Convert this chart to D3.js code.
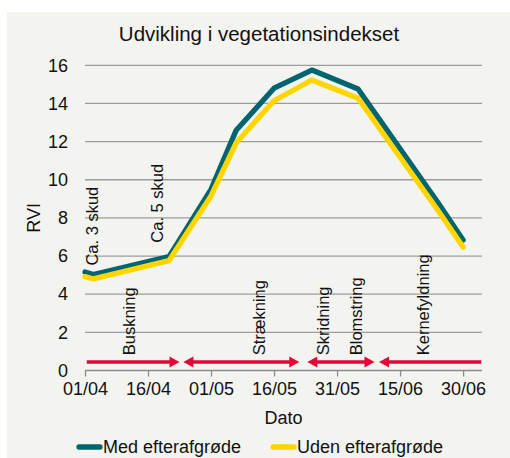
<!DOCTYPE html>
<html>
<head>
<meta charset="utf-8">
<script src="https://cdn.jsdelivr.net/npm/d3@7"></script>
<style>
  html, body { margin: 0; padding: 0; background: #fff; }
  svg { display: block; }
  text { font-family: "Liberation Sans", Arial, sans-serif; fill: #111; }
</style>
</head>
<body>
<svg id="chart" width="510" height="458"></svg>
<script>
// measurement dates
const dates = ["2023-04-01", "2023-04-03", "2023-04-21", "2023-05-01", "2023-05-07",
  "2023-05-16", "2023-05-25", "2023-06-05", "2023-06-24", "2023-06-30"];
const medValues = [5.16, 5.03, 5.97, 9.5, 12.6, 14.8, 15.75, 14.76, 8.8, 6.84];
const udenValues = [4.92, 4.8, 5.76, 9.15, 11.94, 14.14, 15.23, 14.27, 8.4, 6.47];

const tickDates = ["2023-04-01", "2023-04-16", "2023-05-01", "2023-05-16",
  "2023-05-31", "2023-06-15", "2023-06-30"];
const yTicks = [0, 2, 4, 6, 8, 10, 12, 14, 16];

// growth stage arrows: from, to, heads
const stageFrom = ["2023-04-01T10:00", "2023-04-24T10:00", "2023-05-23T22:00", "2023-06-10"];
const stageTo = ["2023-04-23T12:00", "2023-05-22T00:00", "2023-06-08T22:00", "2023-07-04T08:00"];
const stageHeads = [["end"], ["start", "end"], ["start", "end"], ["start"]];

// rotated stage labels
const stageLabels = ["Ca. 3 skud", "Ca. 5 skud", "Buskning", "Strækning", "Skridning", "Blomstring", "Kernefyldning"];
const stageLabelDates = ["2023-04-04", "2023-04-19T14:00", "2023-04-13T00:00", "2023-05-13T22:00",
  "2023-05-29T02:00", "2023-06-05T22:00", "2023-06-21T22:00"];
const stageLabelValues = [5.5, 6.7, 0.8, 0.8, 0.8, 0.8, 0.8];

const series = [
  { name: "Med efterafgrøde", values: medValues, color: "#00656e" },
  { name: "Uden efterafgrøde", values: udenValues, color: "#ffd500" }
];

const parse = (s) => new Date(s);
const svg = d3.select("#chart");

svg.append("rect")
  .attr("x", 7).attr("y", 12)
  .attr("width", 503).attr("height", 446)
  .style("fill", "#f3f3ef");

const x = d3.scaleTime()
  .domain([parse("2023-04-01"), parse("2023-07-04T12:00")])
  .range([85, 482]);
const y = d3.scaleLinear().domain([0, 16]).range([370.5, 65.3]);

// title
svg.append("text")
  .attr("x", 259).attr("y", 40.5)
  .attr("text-anchor", "middle")
  .style("font-size", "20.5px")
  .text("Udvikling i vegetationsindekset");

// gridlines
svg.append("g")
  .selectAll("line")
  .data(yTicks.filter((d) => d > 0))
  .enter()
  .append("line")
  .attr("x1", x.range()[0]).attr("x2", x.range()[1])
  .attr("y1", (d) => y(d)).attr("y2", (d) => y(d))
  .style("stroke", "#9c9c9a")
  .style("stroke-width", 1.3);

// y axis labels
const yAxis = svg.append("g")
  .attr("transform", `translate(${x.range()[0]},0)`)
  .call(d3.axisLeft(y).tickValues(yTicks).tickSize(0).tickPadding(17));
yAxis.select(".domain").remove();
yAxis.selectAll("text")
  .style("font-family", "'Liberation Sans', Arial, sans-serif")
  .style("font-size", "18px")
  .style("fill", "#111");

// x axis
const xAxis = svg.append("g")
  .attr("transform", `translate(0,${y(0)})`)
  .call(d3.axisBottom(x)
    .tickValues(tickDates.map(parse))
    .tickFormat(d3.timeFormat("%d/%m"))
    .tickSizeInner(6).tickSizeOuter(0).tickPadding(6));
xAxis.select(".domain")
  .attr("d", `M${x.range()[0]},0H${x.range()[1]}`)
  .style("stroke", "#8c8c8c").style("stroke-width", 1.3);
xAxis.selectAll(".tick line").style("stroke", "#8c8c8c").style("stroke-width", 1.3);
xAxis.selectAll("text")
  .style("font-family", "'Liberation Sans', Arial, sans-serif")
  .style("font-size", "18px")
  .style("fill", "#111");

// axis titles
svg.append("text")
  .attr("x", (x.range()[0] + x.range()[1]) / 2).attr("y", 424)
  .attr("text-anchor", "middle")
  .style("font-size", "18px")
  .text("Dato");
svg.append("text")
  .attr("transform", `translate(40,${(y(0) + y(16)) / 2}) rotate(-90)`)
  .attr("text-anchor", "middle")
  .style("font-size", "18px")
  .text("RVI");

// stage arrows
const arrowColor = "#e2063b";
const arrowY = y(0.45);
const headLen = 10, headHalf = 5.5;
const arrows = svg.append("g");
stageFrom.forEach((f, i) => {
  const x0 = x(parse(f)), x1 = x(parse(stageTo[i]));
  const heads = stageHeads[i];
  const a = heads.includes("start") ? x0 + headLen - 1 : x0;
  const b = heads.includes("end") ? x1 - headLen + 1 : x1;
  arrows.append("line")
    .attr("x1", a).attr("x2", b)
    .attr("y1", arrowY).attr("y2", arrowY)
    .style("stroke", arrowColor).style("stroke-width", 3.5);
  if (heads.includes("end")) {
    arrows.append("path")
      .attr("d", `M${x1},${arrowY}L${x1 - headLen},${arrowY - headHalf}L${x1 - headLen},${arrowY + headHalf}Z`)
      .style("fill", arrowColor);
  }
  if (heads.includes("start")) {
    arrows.append("path")
      .attr("d", `M${x0},${arrowY}L${x0 + headLen},${arrowY - headHalf}L${x0 + headLen},${arrowY + headHalf}Z`)
      .style("fill", arrowColor);
  }
});

// stage labels
svg.append("g")
  .selectAll("text")
  .data(stageLabels)
  .enter()
  .append("text")
  .attr("transform", (d, i) =>
    `translate(${x(parse(stageLabelDates[i]))},${y(stageLabelValues[i])}) rotate(-90)`)
  .style("font-size", "16.5px")
  .text((d) => d);

// lines
const line = d3.line()
  .x((d, i) => x(parse(dates[i])))
  .y((d) => y(d));
svg.append("g")
  .selectAll("path")
  .data(series)
  .enter()
  .append("path")
  .attr("d", (d) => line(d.values))
  .style("fill", "none")
  .style("stroke", (d) => d.color)
  .style("stroke-width", 5.3)
  .style("stroke-linejoin", "round")
  .style("stroke-linecap", "round");

// legend
const legendX = [77, 271];
const legend = svg.append("g")
  .selectAll("g")
  .data(series)
  .enter()
  .append("g")
  .attr("transform", (d, i) => `translate(${legendX[i]},447)`);
legend.append("line")
  .attr("x1", 2).attr("x2", 23)
  .style("stroke", (d) => d.color)
  .style("stroke-width", 5.3)
  .style("stroke-linecap", "round");
legend.append("text")
  .attr("x", 26).attr("y", 6)
  .style("font-size", "18px")
  .text((d) => d.name);
</script>
</body>
</html>
